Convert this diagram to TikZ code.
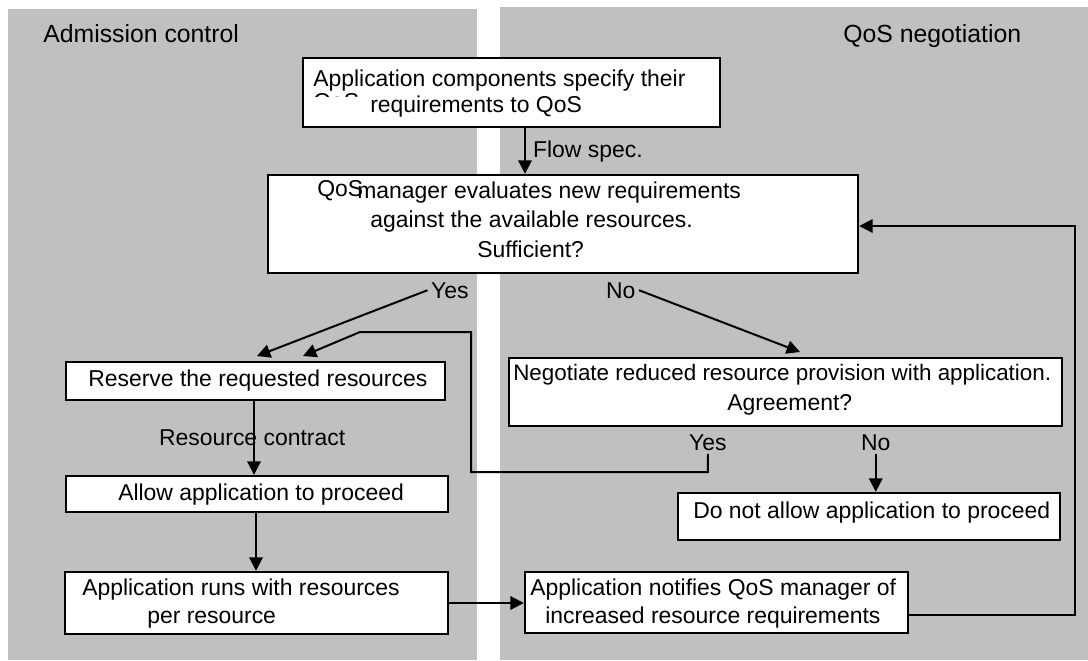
\documentclass[tikz,border=0pt]{standalone}
\usepackage{fontspec}
\setmainfont{Liberation Sans}
\usetikzlibrary{arrows.meta,fit}
\definecolor{panelgray}{HTML}{C0C0C0}
\begin{document}
\begin{tikzpicture}[x=0.75pt,y=-0.75pt,
  box/.style={draw=black, fill=white, line width=1.8pt, inner sep=0pt},
  txt/.style={anchor=base west, inner sep=0pt, font=\fontsize{17.2}{20}\selectfont},
  hdr/.style={anchor=base west, inner sep=0pt, font=\fontsize{18.6}{22}\selectfont},
  lbl/.style={anchor=base west, inner sep=2.5pt, font=\fontsize{17.2}{20}\selectfont},
  arr/.style={line width=1.5pt, -{Triangle[length=10pt,width=10pt]}}]
\useasboundingbox (0,0) rectangle (1088,660);
\fill[white] (0,0) rectangle (1088,660);
% panels
\fill[panelgray] (8,9) rectangle (477,660);
\fill[panelgray] (500,7) rectangle (1088,660);
\node[hdr] (h1) at (43,43) {Admission control};
\node[hdr] (h2) at (843,43) {QoS negotiation};
% boxes
\node[box, fit={(303,58) (720,127)}] (b1) {};
\node[box, fit={(268,175) (858,273)}] (b2) {};
\node[box, fit={(66,362) (445,400)}] (b3) {};
\node[box, fit={(66,476) (448,512)}] (b4) {};
\node[box, fit={(65,572) (448,634)}] (b5) {};
\node[box, fit={(525,572) (908,633)}] (b6) {};
\node[box, fit={(509,358) (1062,426)}] (bn) {};
\node[box, fit={(678,493) (1060,540)}] (b7) {};
% box texts
\node[txt] (t1a) at (313,86) {Application components specify their};
\begin{scope}
  \clip (303,58) rectangle (720,96);
  \node[txt] (t1q) at (313,109) {QoS};
\end{scope}
\node[txt] (t1b) at (370,113) {requirements to QoS};
\node[txt] (t2q) at (317,196) {QoS};
\node[txt] (t2a) at (357,198) {manager evaluates new requirements};
\node[txt] (t2b) at (370,227) {against the available resources.};
\node[txt] (t2c) at (477,257) {Sufficient?};
\node[txt] (t3) at (88,386) {Reserve the requested resources};
\node[txt] (t4) at (118,500) {Allow application to proceed};
\node[txt] (t5a) at (82,595) {Application runs with resources};
\node[txt] (t5b) at (147,623) {per resource};
\node[txt] (t6a) at (530,595) {Application notifies QoS manager of};
\node[txt] (t6b) at (545,623) {increased resource requirements};
\node[txt, font=\fontsize{16.8}{20}\selectfont] (tna) at (513,380) {Negotiate reduced resource provision with application.};
\node[txt] (tnb) at (727,410) {Agreement?};
\node[txt] (t7) at (693,518) {Do not allow application to proceed};
% labels
\node[lbl] (flow) at (529.5,157) {Flow spec.};
\node[lbl] (rc) at (155.5,445) {Resource contract};
\node[lbl] (yes1) at (427.5,298) {Yes};
\node[lbl] (no1) at (602.5,298) {No};
\node[lbl] (yes2) at (685.5,450) {Yes};
\node[lbl] (no2) at (857.5,450) {No};
% coordinates
\coordinate (fx) at (525,0);
\coordinate (rx) at (254,0);
\coordinate (ax) at (256,0);
\coordinate (f1) at (1075,615);
\coordinate (f2) at (1075,226);
\coordinate (y1t) at (257,356);
\coordinate (n1t) at (800,352);
\coordinate (l1) at (708,472);
\coordinate (l2) at (471,472);
\coordinate (l3) at (471,332);
\coordinate (l4) at (360,332);
\coordinate (l5) at (303,356);
% connectors
\draw[arr] (b1.south -| fx) -- (b2.north -| fx);
\draw[arr] (b3.south -| rx) -- (b4.north -| rx);
\draw[arr] (b4.south -| ax) -- (b5.north -| ax);
\draw[arr] (b5.east) -- (b5.east -| b6.west);
\draw[arr] (b6.east |- f1) -- (f1) -- (f2) -- (b2.east |- f2);
\draw[arr] (yes1.west) -- (y1t);
\draw[arr] (no1.east) -- (n1t);
\draw[arr] (yes2.south) -- (yes2.south |- l1) -- (l2) -- (l3) -- (l4) -- (l5);
\draw[arr] (no2.south) -- (no2.south |- b7.north);
\end{tikzpicture}
\end{document}
